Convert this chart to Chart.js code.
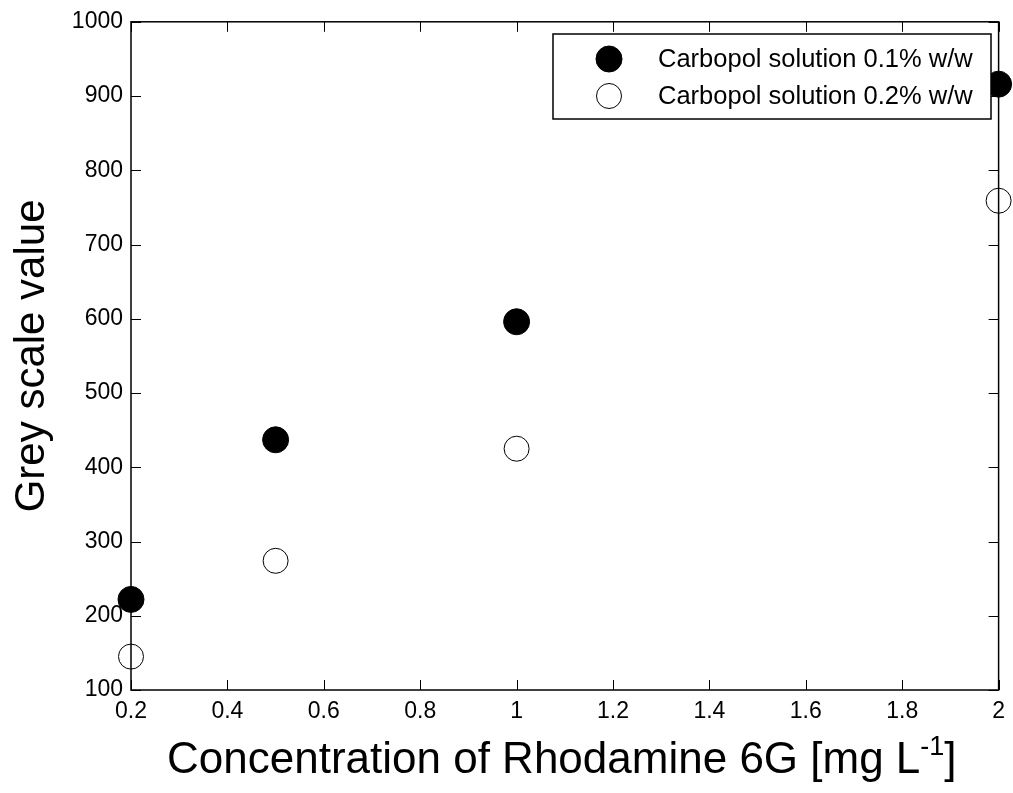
<!DOCTYPE html>
<html>
<head>
<meta charset="utf-8">
<script src="https://cdn.jsdelivr.net/npm/chart.js@4"></script>
<style>
  html, body { margin: 0; padding: 0; background: #fff; }
  #wrap { width: 1013px; height: 793px; }
</style>
</head>
<body>
<div id="wrap"><canvas id="c" width="1013" height="793"></canvas></div>
<script>
// values
const conc = [0.2, 0.5, 1, 2];
const grey01 = [222, 437, 596, 916];
const grey02 = [145, 274, 425, 759];
const seriesNames = ["Carbopol solution 0.1% w/w", "Carbopol solution 0.2% w/w"];

const xTicks = [0.2, 0.4, 0.6, 0.8, 1, 1.2, 1.4, 1.6, 1.8, 2];
const xTickLabels = ["0.2", "0.4", "0.6", "0.8", "1", "1.2", "1.4", "1.6", "1.8", "2"];
const yTicks = [100, 200, 300, 400, 500, 600, 700, 800, 900, 1000];
const yTickLabels = ["100", "200", "300", "400", "500", "600", "700", "800", "900", "1000"];

const xTitle = "Concentration of Rhodamine 6G [mg L";
const xTitleSup = "-1";
const xTitleEnd = "]";
const yTitle = "Grey scale value";

const FONT = '"Liberation Sans", Arial, Helvetica, sans-serif';

// box, inward ticks on all four sides, titles and the legend
const framePlugin = {
  id: "frame",
  afterDraw(chart) {
    const { ctx, chartArea: a, scales } = chart;
    const L = 10;
    ctx.save();
    ctx.strokeStyle = "#000";
    ctx.lineWidth = 1;
    ctx.beginPath();
    for (const v of xTicks) {
      const px = Math.round(scales.x.getPixelForValue(v)) + 0.5;
      ctx.moveTo(px, a.bottom); ctx.lineTo(px, a.bottom - L);
      ctx.moveTo(px, a.top); ctx.lineTo(px, a.top + L);
    }
    for (const v of yTicks) {
      const py = Math.round(scales.y.getPixelForValue(v)) + 0.5;
      ctx.moveTo(a.left, py); ctx.lineTo(a.left + L, py);
      ctx.moveTo(a.right, py); ctx.lineTo(a.right - L, py);
    }
    ctx.stroke();
    ctx.lineWidth = 1.5;
    ctx.strokeRect(a.left, a.top, a.right - a.left, a.bottom - a.top);

    // y title
    ctx.fillStyle = "#000";
    ctx.save();
    ctx.translate(44, (a.top + a.bottom) / 2);
    ctx.rotate(-Math.PI / 2);
    ctx.font = `42px ${FONT}`;
    ctx.textAlign = "center";
    ctx.textBaseline = "alphabetic";
    ctx.fillText(yTitle, 0, 0);
    ctx.restore();

    // x title with superscript
    ctx.textAlign = "left";
    ctx.textBaseline = "alphabetic";
    ctx.font = `44px ${FONT}`;
    const w1 = ctx.measureText(xTitle).width;
    const w3 = ctx.measureText(xTitleEnd).width;
    ctx.font = `27px ${FONT}`;
    const w2 = ctx.measureText(xTitleSup).width;
    const total = w1 + w2 + w3;
    const x0 = (a.left + a.right) / 2 - 3 - total / 2;
    const base = 773;
    ctx.font = `44px ${FONT}`;
    ctx.fillText(xTitle, x0, base);
    ctx.font = `27px ${FONT}`;
    ctx.fillText(xTitleSup, x0 + w1, base - 18);
    ctx.font = `44px ${FONT}`;
    ctx.fillText(xTitleEnd, x0 + w1 + w2, base);

    // legend
    const bx = 553, by = 34, bw = 438, bh = 85;
    ctx.fillStyle = "#fff";
    ctx.fillRect(bx, by, bw, bh);
    ctx.lineWidth = 1.5;
    ctx.strokeStyle = "#000";
    ctx.strokeRect(bx, by, bw, bh);
    const rows = [59, 96];
    chart.data.datasets.forEach((ds, i) => {
      ctx.beginPath();
      ctx.arc(609, rows[i], ds.pointRadius, 0, Math.PI * 2);
      ctx.fillStyle = ds.pointBackgroundColor;
      ctx.fill();
      ctx.lineWidth = ds.pointBorderWidth;
      ctx.strokeStyle = ds.pointBorderColor;
      ctx.stroke();
      ctx.fillStyle = "#000";
      ctx.font = `25.5px ${FONT}`;
      ctx.textBaseline = "middle";
      ctx.fillText(ds.label, 658, rows[i] + 1);
    });
    ctx.restore();
  }
};

new Chart(document.getElementById("c"), {
  type: "scatter",
  data: {
    datasets: [
      {
        label: seriesNames[0],
        data: conc.map((x, i) => ({ x, y: grey01[i] })),
        pointRadius: 13, pointHoverRadius: 13,
        pointBackgroundColor: "#000", pointBorderColor: "#000", pointBorderWidth: 1,
        clip: false
      },
      {
        label: seriesNames[1],
        data: conc.map((x, i) => ({ x, y: grey02[i] })),
        pointRadius: 12.5, pointHoverRadius: 12.5,
        pointBackgroundColor: "#fff", pointBorderColor: "#000", pointBorderWidth: 1,
        clip: false
      }
    ]
  },
  options: {
    responsive: false,
    animation: false,
    devicePixelRatio: 1,
    layout: { padding: { top: 21, right: 14, left: 0, bottom: 0 } },
    plugins: { legend: { display: false }, tooltip: { enabled: false } },
    scales: {
      x: {
        type: "linear", min: 0.2, max: 2,
        afterBuildTicks: (s) => { s.ticks = xTicks.map((v) => ({ value: v })); },
        afterFit: (s) => { s.height = 103; },
        ticks: {
          callback: (v, i) => xTickLabels[i],
          font: { family: FONT, size: 23 }, color: "#000",
          padding: 8, maxRotation: 0, autoSkip: false
        },
        grid: { display: false, drawTicks: false },
        border: { display: false }
      },
      y: {
        type: "linear", min: 100, max: 1000,
        afterBuildTicks: (s) => { s.ticks = yTicks.map((v) => ({ value: v })); },
        afterFit: (s) => { s.width = 131; },
        ticks: {
          callback: (v, i) => yTickLabels[i],
          font: { family: FONT, size: 23 }, color: "#000",
          padding: 8, autoSkip: false
        },
        grid: { display: false, drawTicks: false },
        border: { display: false }
      }
    }
  },
  plugins: [framePlugin]
});
</script>
</body>
</html>
